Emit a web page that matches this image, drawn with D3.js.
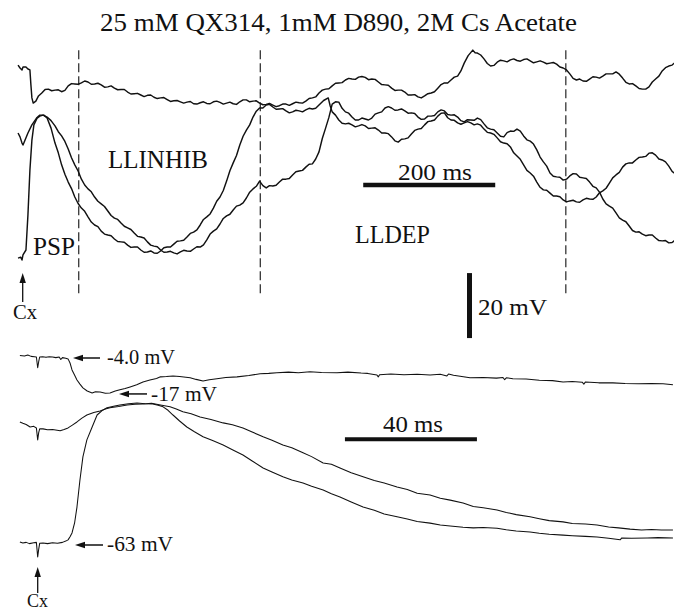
<!DOCTYPE html>
<html>
<head>
<meta charset="utf-8">
<script src="https://cdn.jsdelivr.net/npm/d3@7"></script>
<style>
  html, body { margin: 0; padding: 0; background: #fff; }
  svg { display: block; }
  text { font-family: "Liberation Serif", "Times New Roman", serif; fill: #111; }
</style>
</head>
<body>
<script>
// ---- Long-latency recording (upper panel): [time ms, membrane potential mV] ----
const slowTraceTop = [[-6,56.9],[-3,56.0],[0,55.4],[1.5,56.3],[6,56.3],[9,55.7],[12,55.4],[13.5,50.8],[15,46.8],[17,45.2],[21,45.8],[25,47.4],[30,48.3],[35,49.4],[40,49.5],[45,49.0],[50,49.2],[55,49.3],[60,48.7],[65,49.1],[70,50.5],[75,51.2],[80,51.1],[85,51.0],[90,51.4],[95,52.0],[100,51.7],[105,51.0],[110,51.1],[115,51.3],[120,50.8],[125,50.1],[130,50.2],[135,50.5],[140,49.8],[145,49.3],[150,49.4],[155,49.4],[160,48.6],[165,48.0],[170,48.1],[175,48.2],[180,47.7],[185,47.2],[190,47.6],[195,47.7],[200,47.0],[205,46.6],[210,46.8],[215,46.9],[220,46.3],[225,45.7],[230,45.9],[235,46.0],[240,45.6],[245,45.2],[250,45.5],[255,45.7],[260,45.0],[265,44.9],[270,45.3],[275,45.6],[280,45.1],[285,45.0],[290,45.6],[295,45.8],[300,45.4],[305,44.9],[310,45.2],[315,45.5],[320,45.0],[325,44.8],[330,45.6],[335,46.2],[340,46.2],[345,45.6],[350,45.8],[355,45.9],[360,45.2],[365,44.7],[370,44.8],[375,45.1],[380,44.6],[385,44.1],[390,44.4],[395,44.9],[400,44.9],[405,44.5],[410,45.0],[415,45.5],[420,45.3],[425,45.2],[430,45.8],[435,46.6],[440,46.8],[445,47.1],[450,48.3],[455,49.2],[460,49.5],[465,49.6],[470,50.5],[475,51.3],[480,51.4],[485,51.5],[490,52.3],[495,52.8],[500,52.6],[505,52.5],[510,53.2],[515,53.4],[520,53.1],[525,52.4],[530,52.6],[535,52.5],[540,51.7],[545,50.9],[550,50.8],[555,50.7],[560,49.8],[565,49.1],[570,49.2],[575,49.2],[580,48.6],[585,47.7],[590,47.7],[595,47.8],[600,47.1],[605,46.8],[610,47.4],[615,48.1],[620,48.3],[625,48.7],[630,49.8],[635,50.9],[640,51.4],[645,51.4],[650,52.3],[655,53.2],[660,53.5],[665,55.1],[670,57.5],[676,59.8],[683,61.5],[686.5,60.7],[690,60.6],[695,60.0],[700,58.8],[705,57.4],[710,56.6],[715,56.8],[720,57.8],[725,58.4],[730,58.2],[735,57.9],[740,58.5],[745,58.8],[750,58.3],[755,58.1],[760,58.6],[765,58.8],[770,58.2],[775,57.6],[780,57.9],[785,58.2],[790,57.8],[795,57.3],[800,57.5],[805,57.7],[810,57.2],[815,56.3],[820,56.0],[825,55.4],[830,54.2],[835,52.8],[840,52.3],[845,52.6],[850,52.0],[855,51.9],[860,52.6],[865,53.3],[870,53.2],[875,52.9],[880,53.5],[885,54.2],[890,54.2],[895,54.2],[900,54.8],[905,54.1],[910,52.9],[915,51.6],[920,51.1],[925,51.2],[930,50.5],[935,49.7],[940,49.5],[945,49.5],[950,50.2],[955,51.7],[960,52.6],[965,53.5],[970,55.1],[975,56.1],[980,56.6],[985,56.9],[990,57.8]];

const slowTraceFast = [[-6,36.0],[-3,34.8],[0,32.9],[1.5,32.3],[4.5,33.8],[9,36.0],[15,38.5],[22,40.6],[27,41.5],[33,41.5],[38,40.6],[44,37.5],[50,32.9],[55,29.9],[60,26.2],[65,23.3],[70,20.9],[75,18.9],[80,16.3],[85,14.3],[90,12.9],[95,11.9],[100,10.2],[105,8.6],[110,7.7],[115,7.2],[120,5.8],[125,4.9],[130,4.6],[135,4.4],[140,3.4],[145,2.6],[150,2.5],[155,2.4],[160,1.5],[165,0.8],[170,0.9],[175,0.9],[180,0.0],[185,-0.7],[190,-0.6],[195,-0.3],[200,-0.9],[205,-1.0],[210,-0.3],[215,0.7],[220,0.9],[225,0.9],[230,1.8],[235,2.7],[240,2.8],[245,3.0],[250,4.0],[255,5.1],[260,5.5],[265,6.2],[270,7.7],[275,9.4],[280,10.2],[285,11.1],[290,12.9],[295,15.0],[300,16.3],[305,18.3],[310,21.2],[315,24.4],[320,26.8],[325,29.1],[330,32.3],[335,35.0],[340,36.9],[345,38.5],[350,40.9],[355,42.7],[360,43.7],[365,43.7],[370,44.6],[375,44.8],[380,44.0],[385,43.3],[390,43.4],[395,43.5],[400,42.8],[405,42.2],[410,42.5],[415,43.0],[420,42.8],[425,42.5],[430,43.1],[435,43.6],[440,43.4],[445,43.6],[450,44.6],[457,46.0],[464,46.8],[467,44.3],[470,42.5],[475,41.5],[480,40.0],[485,39.0],[490,38.8],[495,39.0],[500,38.5],[505,37.9],[510,38.2],[515,38.6],[520,38.2],[525,37.4],[530,37.5],[535,37.6],[540,36.9],[545,36.0],[550,36.0],[555,35.8],[560,34.8],[565,33.6],[570,33.2],[575,34.1],[580,34.2],[585,34.5],[590,35.7],[595,36.8],[600,37.2],[605,37.4],[610,38.5],[615,39.5],[620,39.7],[625,40.0],[630,41.2],[635,42.1],[640,42.2],[645,40.7],[650,40.0],[655,39.9],[660,39.1],[665,38.7],[670,39.1],[675,39.5],[680,39.1],[685,38.5],[690,38.8],[695,38.4],[700,37.2],[705,36.2],[710,36.0],[715,35.6],[720,34.5],[725,33.3],[730,32.9],[735,32.7],[740,31.7],[745,29.9],[750,28.9],[755,27.9],[760,26.2],[765,24.5],[770,23.7],[775,22.7],[780,20.9],[785,19.3],[790,18.5],[795,18.4],[800,17.5],[805,16.6],[810,16.6],[815,16.4],[820,15.4],[825,14.8],[830,15.1],[835,15.3],[840,14.8],[845,14.7],[850,15.4],[855,15.9],[860,15.7],[865,15.6],[870,16.3],[875,17.6],[880,18.2],[885,19.0],[890,20.6],[895,22.2],[900,23.1],[905,23.9],[910,25.5],[915,26.5],[920,26.8],[925,26.8],[930,27.7],[935,28.5],[940,28.6],[945,28.8],[950,29.8],[955,29.9],[960,29.2],[965,28.0],[970,27.7],[975,27.1],[980,25.8],[985,24.2],[990,23.4]];

const slowTraceLate = [[-6,-2.5],[-2,-2.2],[0,-3.1],[1.5,-1.5],[6,0.0],[9,10.8],[12,24.6],[15,33.8],[18,38.5],[23,40.6],[27,41.2],[32,41.5],[38,40.9],[44,39.8],[50,38.2],[55,36.4],[60,35.1],[65,33.4],[70,31.1],[75,28.4],[80,26.2],[85,24.3],[90,21.8],[95,20.0],[100,18.8],[105,17.9],[110,16.3],[115,15.0],[120,14.2],[125,13.4],[130,12.0],[135,10.6],[140,9.8],[145,9.4],[150,8.3],[155,7.3],[160,6.8],[165,6.3],[170,5.2],[175,4.2],[180,4.0],[185,3.7],[190,2.5],[195,1.5],[200,1.2],[205,1.0],[210,0.0],[215,-0.7],[220,-0.6],[225,-0.4],[230,-0.9],[235,-1.2],[240,-0.6],[245,-0.1],[250,-0.3],[255,-0.4],[260,0.3],[265,1.0],[270,0.9],[275,1.6],[280,3.1],[285,4.9],[290,5.8],[295,6.5],[300,8.0],[305,9.7],[310,10.5],[315,11.0],[320,12.3],[325,13.5],[330,13.8],[335,14.5],[340,16.0],[345,17.8],[350,18.8],[355,19.6],[360,21.2],[365,19.8],[370,19.1],[375,19.8],[380,19.7],[385,19.9],[390,20.9],[395,21.8],[400,21.8],[405,22.0],[410,23.1],[415,24.1],[420,24.3],[425,24.5],[430,25.5],[435,26.4],[440,26.5],[445,28.0],[450,30.2],[455,34.3],[460,37.5],[465,40.8],[470,44.9],[475,45.6],[480,45.5],[485,43.6],[490,42.5],[495,42.1],[500,40.9],[505,40.0],[510,40.0],[515,40.6],[520,40.3],[525,40.0],[530,40.6],[535,41.8],[540,42.2],[545,42.5],[550,43.7],[555,44.1],[560,43.7],[565,43.0],[570,43.1],[575,43.4],[580,42.8],[585,42.1],[590,42.2],[595,42.0],[600,40.9],[605,40.2],[610,40.3],[615,41.2],[620,41.2],[625,41.4],[630,42.5],[635,43.1],[640,42.8],[645,41.7],[650,41.5],[655,41.6],[660,40.9],[665,39.8],[670,39.4],[675,40.1],[680,40.0],[685,39.9],[690,40.6],[695,40.1],[700,38.8],[705,37.6],[710,37.2],[715,37.0],[720,36.0],[725,35.0],[730,34.8],[735,36.1],[740,36.6],[745,36.5],[750,37.2],[755,36.6],[760,35.1],[765,33.9],[770,33.5],[775,32.6],[780,30.8],[785,28.6],[790,27.1],[795,25.8],[800,23.7],[805,22.7],[810,22.5],[815,22.4],[820,21.5],[825,21.8],[830,22.8],[835,23.5],[840,23.4],[845,22.4],[850,22.2],[855,22.0],[860,20.9],[865,19.6],[870,19.1],[875,17.8],[880,15.7],[885,14.2],[890,13.5],[895,12.9],[900,11.4],[905,9.9],[910,9.2],[915,8.7],[920,7.4],[925,6.0],[930,5.5],[935,5.6],[940,4.9],[945,4.4],[950,4.6],[955,4.6],[960,3.7],[965,2.9],[970,2.8],[975,2.9],[980,2.2],[985,2.3],[990,3.1]];

// epoch boundaries (ms) and labels of the upper panel
const epochMarks = [86, 361, 824];
const upperLabels = ["PSP", "LLINHIB", "LLDEP"];

// ---- Short-latency recording (lower panel): [time ms, membrane potential mV] ----
const fastTraceHold4 = [[-5.4,-3.5],[-4,-3.7],[-3,-3.4],[-2,-3.8],[-1,-3.9],[-0.4,-4.0],[0,-7.4],[0.3,-5.5],[0.6,-4.0],[1.5,-3.9],[2.5,-4.1],[3.5,-3.9],[4.5,-4.0],[5.5,-4.2],[6.5,-4.0],[7,-4.8],[7.5,-4.2],[8.5,-4.4],[9.2,-4.6],[9.8,-5.9],[10.4,-8.1],[11.2,-9.8],[11.9,-11.3],[12.8,-12.6],[13.7,-13.8],[15,-14.8],[16.5,-15.4],[17.5,-15.0],[18.9,-15.1],[20.5,-15.5],[21.9,-15.4],[23.5,-14.8],[24.9,-14.4],[26.5,-14.0],[28,-13.5],[30,-12.8],[31.9,-11.9],[34,-11.3],[36,-10.8],[37.2,-10.3],[39,-10.2],[41,-10.0],[43,-10.2],[46.2,-10.6],[48,-11.1],[50.1,-11.6],[52,-11.2],[54.3,-10.9],[57,-10.5],[60.4,-10.3],[64,-9.9],[67.4,-9.3],[70,-9.2],[72.5,-9.0],[76,-8.8],[79,-9.0],[82.5,-8.7],[86,-8.9],[90.7,-9.0],[94,-8.8],[98,-9.1],[100,-9.2],[102.8,-9.7],[103.2,-10.3],[103.6,-9.6],[107,-9.4],[111,-9.6],[115,-9.5],[118.9,-9.7],[122,-9.5],[124,-10.0],[124.5,-9.4],[126,-9.8],[131,-10.6],[135,-10.5],[139,-10.7],[141,-10.5],[141.5,-11.2],[142,-10.6],[144,-10.9],[148,-11.0],[152,-11.4],[156,-11.5],[159.2,-11.9],[162,-11.8],[165,-12.0],[165.5,-12.6],[166,-11.9],[170,-12.2],[174.3,-12.2],[178,-12.4],[182,-12.5],[186,-12.4],[189.5,-12.5],[192.5,-12.8]];

const fastTraceHold17 = [[-5.4,-24.6],[-4.5,-25.0],[-3.5,-25.4],[-2.3,-26.2],[-1.2,-26.0],[-0.4,-26.5],[0,-30.3],[0.3,-28.0],[0.6,-26.8],[1.6,-26.8],[3,-27.1],[4.5,-27.0],[6.8,-27.4],[8,-27.0],[9.2,-26.5],[10.5,-25.6],[11.9,-24.6],[13.4,-23.4],[14.9,-22.4],[17,-21.6],[18.9,-21.1],[20.5,-20.5],[21.9,-20.1],[24.5,-19.7],[27.1,-19.2],[29.5,-19.0],[31.9,-18.9],[34.5,-18.7],[37.2,-19.2],[40.1,-19.8],[42,-20.5],[44,-21.4],[46.5,-22.0],[49.2,-23.0],[52.5,-23.8],[56.2,-24.9],[59,-25.5],[62.2,-26.5],[65,-27.8],[68.3,-29.3],[71,-30.4],[74.3,-31.9],[77,-32.8],[80.4,-34.4],[83,-35.6],[86.5,-37.6],[89,-38.0],[91.6,-39.2],[95,-40.7],[98.6,-42.0],[102,-43.2],[105,-44.0],[108.9,-45.2],[112,-46.0],[115,-47.2],[118.9,-47.8],[122,-48.8],[125,-49.4],[128.9,-50.3],[132,-51.4],[135,-51.8],[139.2,-52.5],[142,-53.3],[145,-54.0],[149.2,-54.7],[152,-55.3],[155,-55.9],[159.2,-56.3],[162,-56.8],[166,-57.0],[169.5,-57.3],[173,-57.9],[176,-58.2],[179.5,-58.6],[183,-58.9],[186,-58.7],[189,-58.9],[192.5,-58.9]];

const fastTraceHold63 = [[-5.4,-62.7],[-4.5,-63.0],[-3.5,-62.8],[-2.5,-63.2],[-1.2,-62.9],[-0.4,-62.8],[0,-67.4],[0.3,-65.0],[0.6,-63.1],[1.6,-63.0],[3,-63.2],[4.5,-62.9],[6,-63.1],[7.5,-62.8],[8.5,-62.4],[9.2,-62.0],[9.8,-61.0],[10.4,-59.8],[11.2,-56.5],[11.9,-51.6],[12.8,-43.0],[13.7,-35.7],[14.9,-30.3],[16.5,-26.2],[18,-22.4],[19.5,-21.0],[21,-20.1],[23,-19.6],[24.9,-19.2],[27.5,-18.8],[30.1,-18.6],[32.5,-18.8],[34.9,-18.9],[36.5,-19.3],[38,-19.8],[39.5,-20.9],[41,-22.4],[43,-24.3],[45.2,-26.2],[47.5,-27.7],[50.1,-29.3],[53,-30.5],[56.2,-31.9],[59,-33.4],[62.2,-35.1],[65,-37.0],[68.3,-39.2],[71,-40.5],[74.3,-42.0],[77,-43.0],[80.4,-44.0],[83,-45.0],[86.5,-46.2],[89,-47.4],[91.6,-48.4],[95,-50.0],[98.6,-51.6],[102,-52.6],[105,-53.8],[108.9,-54.7],[112,-55.4],[115,-56.2],[118.9,-56.7],[122,-57.3],[125,-57.6],[128.9,-58.0],[132,-58.2],[135,-58.1],[139.2,-58.3],[142,-58.8],[145,-59.2],[149.2,-59.5],[152,-59.9],[155,-60.2],[159.2,-60.5],[162,-60.7],[166,-60.9],[169.5,-61.1],[173,-61.5],[176.5,-62.0],[177,-61.4],[180,-61.5],[184.7,-61.4],[188,-61.3],[192.5,-61.4]];

// holding potentials annotated on the lower panel
const holdingLabels = ["-4.0 mV", "-17 mV", "-63 mV"];
const holdingLevels = [-4.0, -15.4, -63];

// scale bars
const timeBarUpper = 200;   // ms
const timeBarLower = 40;    // ms
const voltBar = 20;         // mV

const title = "25 mM QX314, 1mM D890, 2M Cs Acetate";

// ---------------------------------------------------------------
const W = 674, H = 612;
const svg = d3.select("body").append("svg").attr("width", W).attr("height", H);
const ink = "#111";

// upper panel scales (0.66 px/ms, 3.25 px/mV)
const xU = d3.scaleLinear().domain([0, 1000]).range([22, 682]);
const yU = d3.scaleLinear().domain([0, 20]).range([250, 185]);
// lower panel scales (3.3 px/ms)
const xL = d3.scaleLinear().domain([0, 40]).range([37.7, 169.7]);
const yL = d3.scaleLinear().domain([-63, -4]).range([543, 357]);

const lineU = d3.line().x(d => xU(d[0])).y(d => yU(d[1]));
const lineL = d3.line().x(d => xL(d[0])).y(d => yL(d[1]));

// title
svg.append("text").attr("x", 100).attr("y", 31)
  .attr("font-size", 26).attr("textLength", 477).attr("lengthAdjust", "spacingAndGlyphs")
  .text(title);

// epoch boundaries
svg.append("g").selectAll("line").data(epochMarks).join("line")
  .attr("x1", d => xU(d)).attr("x2", d => xU(d))
  .attr("y1", yU(61.5)).attr("y2", yU(-14))
  .attr("stroke", ink).attr("stroke-width", 1.1).attr("stroke-dasharray", "9,4");

// upper traces
svg.append("g").selectAll("path").data([slowTraceTop, slowTraceFast, slowTraceLate]).join("path")
  .attr("d", lineU).attr("fill", "none").attr("stroke", ink)
  .attr("stroke-width", 1.45).attr("stroke-linejoin", "round");

// lower traces
svg.append("g").selectAll("path").data([fastTraceHold4, fastTraceHold17, fastTraceHold63]).join("path")
  .attr("d", lineL).attr("fill", "none").attr("stroke", ink)
  .attr("stroke-width", 1.05).attr("stroke-linejoin", "round");

// upper labels
const upperLabelPos = [
  { x: 33, y: 255, w: 42 },
  { x: 108, y: 168, w: 100 },
  { x: 355, y: 243, w: 75 }
];
svg.append("g").selectAll("text").data(upperLabels).join("text")
  .attr("x", (d, i) => upperLabelPos[i].x).attr("y", (d, i) => upperLabelPos[i].y)
  .attr("font-size", 25.5).attr("textLength", (d, i) => upperLabelPos[i].w)
  .attr("lengthAdjust", "spacingAndGlyphs").text(d => d);

// time scale bar (upper)
const tb0 = 517;
svg.append("line").attr("x1", xU(tb0)).attr("x2", xU(tb0 + timeBarUpper))
  .attr("y1", yU(20)).attr("y2", yU(20)).attr("stroke", ink).attr("stroke-width", 4.5);
svg.append("text").attr("x", 398).attr("y", 180).attr("font-size", 24)
  .attr("textLength", 74).attr("lengthAdjust", "spacingAndGlyphs").text(timeBarUpper + " ms");

// voltage scale bar
svg.append("line").attr("x1", xU(678)).attr("x2", xU(678))
  .attr("y1", yU(-7.1)).attr("y2", yU(-7.1 - voltBar)).attr("stroke", ink).attr("stroke-width", 5);
svg.append("text").attr("x", 478).attr("y", 315).attr("font-size", 24)
  .attr("textLength", 69).attr("lengthAdjust", "spacingAndGlyphs").text(voltBar + " mV");

// time scale bar (lower)
const tl0 = 93.1;
svg.append("line").attr("x1", xL(tl0)).attr("x2", xL(tl0 + timeBarLower))
  .attr("y1", yL(-30.1)).attr("y2", yL(-30.1)).attr("stroke", ink).attr("stroke-width", 4);
svg.append("text").attr("x", 383).attr("y", 432).attr("font-size", 24)
  .attr("textLength", 60).attr("lengthAdjust", "spacingAndGlyphs").text(timeBarLower + " ms");

// arrow helpers
function upArrow(x, yTip, yTail) {
  svg.append("line").attr("x1", x).attr("x2", x).attr("y1", yTip + 6).attr("y2", yTail)
    .attr("stroke", ink).attr("stroke-width", 1.3);
  svg.append("path").attr("d", `M${x},${yTip} L${x - 3.2},${yTip + 10} L${x + 3.2},${yTip + 10} Z`).attr("fill", ink);
}
function leftArrow(xTip, xTail, y) {
  svg.append("line").attr("x1", xTip + 6).attr("x2", xTail).attr("y1", y).attr("y2", y)
    .attr("stroke", ink).attr("stroke-width", 1.5);
  svg.append("path").attr("d", `M${xTip},${y} L${xTip + 10},${y - 3.3} L${xTip + 10},${y + 3.3} Z`).attr("fill", ink);
}

// stimulus markers
upArrow(xU(0) + 0.7, 273, 302);
svg.append("text").attr("x", 13).attr("y", 319).attr("font-size", 21)
  .attr("textLength", 24).attr("lengthAdjust", "spacingAndGlyphs").text("Cx");
upArrow(xL(0), 567, 593);
svg.append("text").attr("x", 27).attr("y", 607).attr("font-size", 19)
  .attr("textLength", 21).attr("lengthAdjust", "spacingAndGlyphs").text("Cx");

// holding potential annotations
const holdPos = [
  { tip: 73, tail: 100, tx: 107, dy: 6, w: 68 },
  { tip: 119, tail: 147, tx: 151, dy: 7, w: 66 },
  { tip: 75, tail: 103, tx: 107, dy: 6, w: 66 }
];
holdingLabels.forEach((lab, i) => {
  const p = holdPos[i];
  const y = yL(holdingLevels[i]) + (i === 2 ? 2 : 1);
  leftArrow(p.tip, p.tail, y);
  svg.append("text").attr("x", p.tx).attr("y", y + p.dy).attr("font-size", 21)
    .attr("textLength", p.w).attr("lengthAdjust", "spacingAndGlyphs").text(lab);
});
</script>
</body>
</html>
